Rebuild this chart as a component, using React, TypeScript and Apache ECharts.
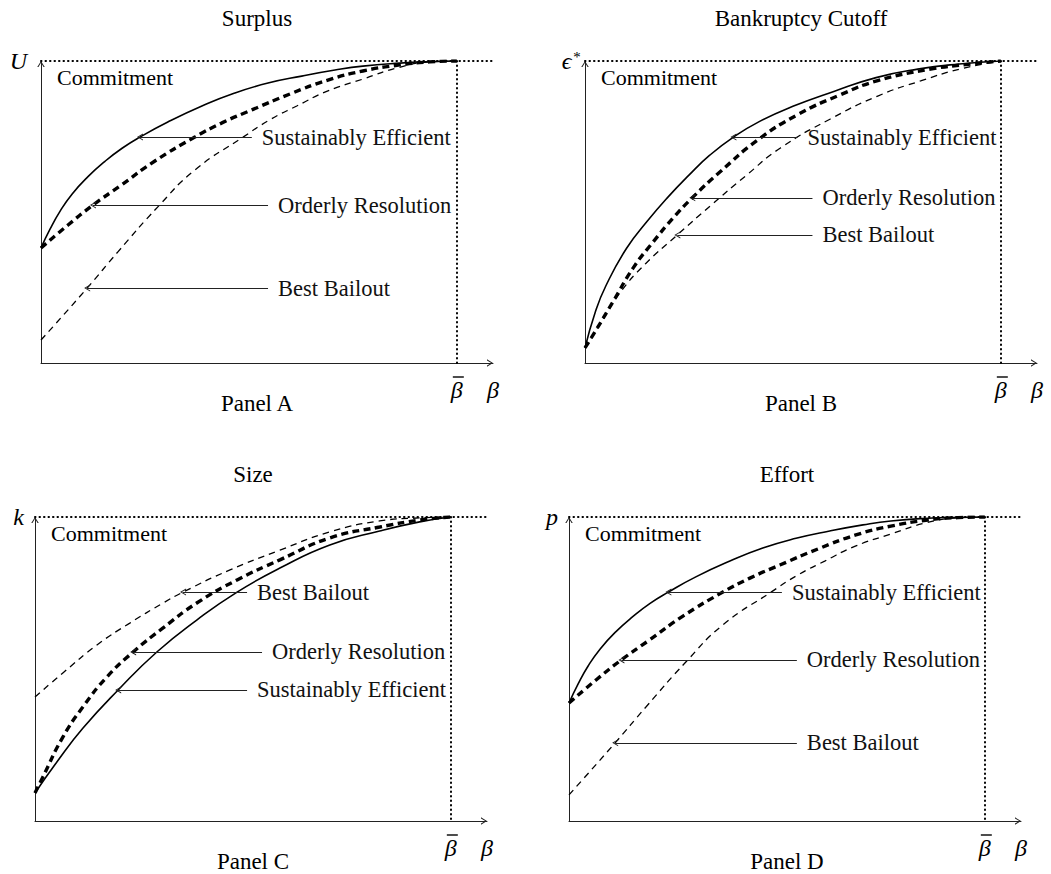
import React, { useEffect, useRef } from "react";
import * as echarts from "echarts";

const FONT = "Liberation Serif";
const X_MAX = 1.087;
const ARROW = "path://M5,0 L10,8 L8.4,8 L5,2.4 L1.6,8 L0,8 Z";

const panelTitles = ["Surplus", "Bankruptcy Cutoff", "Size", "Effort"];
const panelCaptions = ["Panel A", "Panel B", "Panel C", "Panel D"];
const yAxisSymbols = ["U", "{e|ϵ}{s|*}", "k", "p"];
const xTickValues = [1, X_MAX];
const xTickLabels = ["{sp| }{bar| }\n{b|β}", "{gap| }\n{b|β}"];
const commitmentLabel = "Commitment";
const SE = "Sustainably Efficient";
const OR = "Orderly Resolution";
const BB = "Best Bailout";

// Panel A – Surplus
const surplusEfficientX = [0, 0.022, 0.046, 0.075, 0.113, 0.154, 0.195, 0.238, 0.305, 0.387, 0.466, 0.546, 0.627, 0.707, 0.774, 0.863, 0.935, 1];
const surplusEfficientY = [0.381, 0.444, 0.503, 0.56, 0.617, 0.668, 0.711, 0.748, 0.798, 0.851, 0.894, 0.927, 0.95, 0.97, 0.983, 0.993, 0.998, 1];
const surplusOrderlyX = [0, 0.065, 0.125, 0.19, 0.274, 0.37, 0.435, 0.507, 0.599, 0.69, 0.774, 0.863, 0.935, 1];
const surplusOrderlyY = [0.381, 0.457, 0.523, 0.586, 0.669, 0.748, 0.795, 0.838, 0.891, 0.937, 0.967, 0.987, 0.997, 1];
const surplusBailoutX = [0, 0.111, 0.185, 0.281, 0.37, 0.486, 0.55, 0.615, 0.69, 0.774, 0.856, 0.935, 1];
const surplusBailoutY = [0.076, 0.248, 0.368, 0.517, 0.639, 0.748, 0.805, 0.851, 0.901, 0.94, 0.977, 0.997, 1];
// [tip x, level y, line start x]
const surplusNotes = [[0.238, 0.748, 0.507], [0.125, 0.523, 0.546], [0.111, 0.248, 0.546]];

// Panel B – Bankruptcy Cutoff
const cutoffEfficientX = [0, 0.025, 0.05, 0.1, 0.15, 0.2, 0.25, 0.3, 0.357, 0.42, 0.5, 0.6, 0.7, 0.8, 0.9, 1];
const cutoffEfficientY = [0.05, 0.17, 0.255, 0.38, 0.47, 0.55, 0.622, 0.688, 0.748, 0.8, 0.85, 0.9, 0.945, 0.973, 0.99, 1];
const cutoffOrderlyX = [0, 0.024, 0.067, 0.116, 0.164, 0.212, 0.26, 0.325, 0.414, 0.511, 0.614, 0.704, 0.831, 0.928, 1];
const cutoffOrderlyY = [0.05, 0.103, 0.202, 0.315, 0.401, 0.48, 0.55, 0.633, 0.737, 0.822, 0.888, 0.935, 0.973, 0.99, 1];
const cutoffBailoutX = [0, 0.036, 0.084, 0.145, 0.222, 0.301, 0.386, 0.47, 0.59, 0.704, 0.807, 0.904, 1];
const cutoffBailoutY = [0.05, 0.129, 0.232, 0.328, 0.424, 0.52, 0.619, 0.712, 0.808, 0.884, 0.934, 0.974, 1];
const cutoffNotes = [[0.357, 0.748, 0.511], [0.258, 0.547, 0.547], [0.222, 0.424, 0.547]];

// Panel C – Size
const sizeEfficientX = [0, 0.053, 0.115, 0.2, 0.293, 0.389, 0.486, 0.589, 0.709, 0.829, 0.925, 1];
const sizeEfficientY = [0.092, 0.195, 0.305, 0.431, 0.556, 0.661, 0.753, 0.832, 0.908, 0.954, 0.984, 1];
const sizeOrderlyX = [0, 0.019, 0.067, 0.115, 0.173, 0.236, 0.308, 0.389, 0.486, 0.589, 0.709, 0.829, 0.925, 1];
const sizeOrderlyY = [0.092, 0.145, 0.276, 0.375, 0.474, 0.556, 0.635, 0.717, 0.793, 0.859, 0.931, 0.967, 0.99, 1];
const sizeBailoutX = [0, 0.067, 0.149, 0.228, 0.308, 0.356, 0.469, 0.589, 0.709, 0.829, 0.925, 1];
const sizeBailoutY = [0.408, 0.487, 0.579, 0.651, 0.717, 0.753, 0.826, 0.891, 0.951, 0.987, 0.997, 1];
const sizeNotes = [[0.2, 0.431, 0.51], [0.236, 0.556, 0.546], [0.356, 0.753, 0.51]];

// Panel D – Effort
const effortEfficientX = [0, 0.022, 0.046, 0.075, 0.113, 0.154, 0.195, 0.239, 0.305, 0.387, 0.466, 0.546, 0.627, 0.707, 0.774, 0.863, 0.935, 1];
const effortEfficientY = [0.388, 0.451, 0.51, 0.566, 0.623, 0.673, 0.716, 0.753, 0.803, 0.855, 0.898, 0.93, 0.954, 0.974, 0.987, 0.996, 0.999, 1];
const effortOrderlyX = [0, 0.065, 0.126, 0.19, 0.274, 0.37, 0.435, 0.507, 0.599, 0.69, 0.774, 0.863, 0.935, 1];
const effortOrderlyY = [0.388, 0.464, 0.53, 0.592, 0.674, 0.753, 0.799, 0.842, 0.895, 0.941, 0.97, 0.99, 0.998, 1];
const effortBailoutX = [0, 0.111, 0.185, 0.281, 0.37, 0.486, 0.55, 0.615, 0.69, 0.774, 0.856, 0.935, 1];
const effortBailoutY = [0.086, 0.257, 0.375, 0.523, 0.645, 0.753, 0.809, 0.855, 0.905, 0.944, 0.98, 0.997, 1];
const effortNotes = [[0.239, 0.753, 0.512], [0.126, 0.53, 0.548], [0.111, 0.257, 0.548]];

const zip = (xs: number[], ys: number[]) => xs.map((x, i) => [x, ys[i]]);

const panelData = [
  [zip(surplusEfficientX, surplusEfficientY), zip(surplusOrderlyX, surplusOrderlyY), zip(surplusBailoutX, surplusBailoutY), surplusNotes],
  [zip(cutoffEfficientX, cutoffEfficientY), zip(cutoffOrderlyX, cutoffOrderlyY), zip(cutoffBailoutX, cutoffBailoutY), cutoffNotes],
  [zip(sizeEfficientX, sizeEfficientY), zip(sizeOrderlyX, sizeOrderlyY), zip(sizeBailoutX, sizeBailoutY), sizeNotes],
  [zip(effortEfficientX, effortEfficientY), zip(effortOrderlyX, effortOrderlyY), zip(effortBailoutX, effortBailoutY), effortNotes],
] as any[];

// layout
const grids = [
  { left: 41, top: 61, width: 452, height: 302 },
  { left: 585, top: 61, width: 452, height: 302 },
  { left: 35, top: 517, width: 452, height: 304 },
  { left: 569, top: 517, width: 452, height: 304 },
];
const titleCenters = [257, 801, 253, 787];
const yLabelMargins = [14, 5, 11, 11];

export default function App() {
  const ref = useRef<HTMLDivElement>(null);
  useEffect(() => {
    if (!ref.current) return;
    const chart = echarts.init(ref.current, null, { renderer: "svg" });

    const styles: any = {
      solid: { color: "#000", width: 1.6, type: "solid" },
      thick: { color: "#000", width: 3.4, type: [7, 4.5] },
      thin: { color: "#000", width: 1.3, type: [6.5, 5] },
    };
    const kinds = ["solid", "thick", "thin"];
    const names = [SE, OR, BB];

    const series: any[] = [];
    panelData.forEach((pd: any[], i: number) => {
      const notes = pd[3];
      for (let k = 0; k < 3; k++) {
        const n = notes[k];
        series.push({
          type: "line",
          name: names[k],
          xAxisIndex: i,
          yAxisIndex: i,
          data: pd[k],
          smooth: 0.5,
          symbol: "none",
          showSymbol: false,
          lineStyle: styles[kinds[k]],
          z: 3,
          markLine: {
            silent: true,
            animation: false,
            symbol: ["none", ARROW],
            symbolSize: [7, 6],
            lineStyle: { color: "#222", width: 1, type: "solid" },
            label: {
              show: true,
              position: "start",
              distance: 10,
              formatter: names[k],
              color: "#111",
              fontFamily: FONT,
              fontSize: 22.5,
            },
            emphasis: { disabled: true },
            data: [[{ coord: [n[2], n[1]] }, { coord: [n[0], n[1]] }]],
          },
        });
      }
      // dotted guides
      series.push({
        type: "line",
        xAxisIndex: i,
        yAxisIndex: i,
        data: [[0, 0]],
        symbol: "none",
        lineStyle: { width: 0 },
        markLine: {
          silent: true,
          animation: false,
          symbol: ["none", "none"],
          lineStyle: { color: "#000", width: 2, type: [0.5, 4], cap: "round", opacity: 1 },
          label: { show: false },
          emphasis: { disabled: true },
          data: [
            [{ coord: [0, 1] }, { coord: [X_MAX, 1] }],
            [{ coord: [1, 1] }, { coord: [1, 0] }],
          ],
        },
      });
    });

    const graphic: any[] = [];
    grids.forEach((g, i) => {
      graphic.push({
        type: "text",
        x: titleCenters[i],
        y: g.top - 43,
        style: { text: panelTitles[i], fontFamily: FONT, fontSize: 23, fill: "#000", textAlign: "center", textVerticalAlign: "middle", align: "center", verticalAlign: "middle" },
      });
      graphic.push({
        type: "text",
        x: titleCenters[i],
        y: g.top + g.height + 40,
        style: { text: panelCaptions[i], fontFamily: FONT, fontSize: 23, fill: "#000", textAlign: "center", textVerticalAlign: "middle", align: "center", verticalAlign: "middle" },
      });
      graphic.push({
        type: "text",
        x: g.left + 16,
        y: g.top + 16,
        style: { text: commitmentLabel, fontFamily: FONT, fontSize: 22, fill: "#000", textAlign: "left", textVerticalAlign: "middle", align: "left", verticalAlign: "middle" },
      });
    });

    const option: any = {
      animation: false,
      backgroundColor: "#fff",
      grid: grids.map((g) => ({ ...g })),
      xAxis: grids.map((_, i) => ({
        type: "value",
        gridIndex: i,
        min: 0,
        max: X_MAX,
        axisLine: {
          show: true,
          symbol: ["none", ARROW],
          symbolSize: [8, 6],
          symbolOffset: [0, -3],
          lineStyle: { color: "#222", width: 1 },
        },
        axisTick: { show: false },
        splitLine: { show: false },
        axisLabel: {
          show: true,
          customValues: xTickValues,
          formatter: (v: number) => (Math.abs(v - 1) < 1e-6 ? xTickLabels[0] : xTickLabels[1]),
          margin: 12,
          color: "#000",
          showMaxLabel: true,
          showMinLabel: true,
          rich: {
            sp: { fontSize: 2, width: 3, height: 1.4, lineHeight: 4 },
            bar: { fontSize: 2, width: 11, height: 1.4, lineHeight: 4, backgroundColor: "#000" },
            gap: { fontSize: 2, width: 11, height: 1.4, lineHeight: 4 },
            b: { fontFamily: FONT, fontStyle: "italic", fontSize: 24, lineHeight: 22, color: "#000" },
          },
        },
      })),
      yAxis: grids.map((_, i) => ({
        type: "value",
        gridIndex: i,
        min: 0,
        max: 1,
        axisLine: {
          show: true,
          symbol: ["none", ARROW],
          symbolSize: [8, 6],
          symbolOffset: [0, -3],
          lineStyle: { color: "#222", width: 1 },
        },
        axisTick: { show: false },
        splitLine: { show: false },
        axisLabel: {
          show: true,
          customValues: [1],
          formatter: () => yAxisSymbols[i],
          margin: yLabelMargins[i],
          fontFamily: FONT,
          fontStyle: "italic",
          fontSize: 24,
          color: "#000",
          showMaxLabel: true,
          rich: {
            e: { fontFamily: FONT, fontStyle: "italic", fontSize: 24, color: "#000" },
            s: { fontFamily: FONT, fontSize: 15, color: "#000", verticalAlign: "top", padding: [0, 0, 8, 1] },
          },
        },
      })),
      series,
      graphic,
    };
    chart.setOption(option);
    return () => chart.dispose();
  }, []);
  return (
    <div
      ref={ref}
      style={{ position: "fixed", left: 0, top: 0, width: 1051, height: 874, background: "#fff" }}
    />
  );
}
